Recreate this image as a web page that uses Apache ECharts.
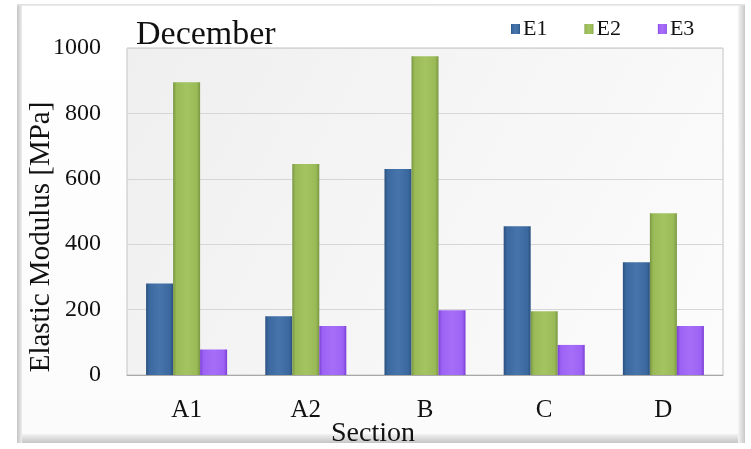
<!DOCTYPE html>
<html>
<head>
<meta charset="utf-8">
<script src="https://cdn.jsdelivr.net/npm/echarts@6/dist/echarts.min.js"></script>
<style>
  html, body { margin: 0; padding: 0; background: #ffffff; }
  #chart { width: 751px; height: 449px; }
</style>
</head>
<body>
<div id="chart"></div>
<script>
// Sections along the road and the three layer moduli (MPa)
const sections = ['A1', 'A2', 'B', 'C', 'D'];
const e1Values = [280, 180, 630, 455, 345];
const e2Values = [895, 645, 975, 195, 495];
const e3Values = [78, 150, 198, 92, 150];
const yTicks = { min: 0, max: 1000, interval: 200 };

const serif = '"Liberation Serif", "DejaVu Serif", serif';

function barFill(edge, base, light) {
  return new echarts.graphic.LinearGradient(0, 0, 1, 0, [
    { offset: 0, color: edge },
    { offset: 0.12, color: base },
    { offset: 0.5, color: light },
    { offset: 0.88, color: base },
    { offset: 1, color: edge }
  ]);
}

const chart = echarts.init(document.getElementById('chart'), null, { renderer: 'canvas' });

const option = {
  backgroundColor: '#ffffff',
  animation: false,
  textStyle: { fontFamily: serif },
  title: {
    text: 'December',
    left: 131,
    top: 13,
    textStyle: { fontFamily: serif, fontSize: 34, fontWeight: 'normal', color: '#111111' }
  },
  legend: {
    left: 506,
    top: 13,
    icon: 'rect',
    itemWidth: 9,
    itemHeight: 10,
    itemGap: 37,
    textStyle: { fontFamily: serif, fontSize: 22, color: '#111111', padding: [0, 0, 0, -2] },
    data: ['E1', 'E2', 'E3']
  },
  graphic: {
    elements: [
      // outer panel with bevelled edges
      {
        type: 'rect', z: -20, silent: true,
        shape: { x: 17, y: 5, width: 728, height: 438 },
        style: { fill: '#cfcfcf' }
      },
      {
        type: 'rect', z: -19, silent: true,
        shape: { x: 17, y: 5, width: 728, height: 438 },
        style: {
          fill: new echarts.graphic.LinearGradient(0, 0, 1, 0, [
            { offset: 0, color: '#c4c4c4' },
            { offset: 0.008, color: '#f4f4f4' },
            { offset: 0.99, color: '#f7f7f7' },
            { offset: 1, color: '#c8c8c8' }
          ])
        }
      },
      {
        type: 'rect', z: -18, silent: true,
        shape: { x: 22, y: 6, width: 716, height: 428 },
        style: {
          fill: new echarts.graphic.LinearGradient(0, 0, 0, 1, [
            { offset: 0, color: '#ffffff' },
            { offset: 1, color: '#fbfbfb' }
          ])
        }
      },
      {
        type: 'rect', z: -18, silent: true,
        shape: { x: 22, y: 434, width: 716, height: 9 },
        style: {
          fill: new echarts.graphic.LinearGradient(0, 0, 0, 1, [
            { offset: 0, color: '#f2f2f2' },
            { offset: 1, color: '#c6c6c6' }
          ])
        }
      },
      {
        type: 'rect', z: -17, silent: true,
        shape: { x: 17, y: 4, width: 728, height: 1.5 },
        style: { fill: '#e2e2e2' }
      },
      // plot area background
      {
        type: 'rect', z: -10, silent: true,
        shape: { x: 127, y: 48, width: 596, height: 327 },
        style: {
          fill: new echarts.graphic.LinearGradient(0, 0, 1, 1, [
            { offset: 0, color: '#efefef' },
            { offset: 1, color: '#fcfcfc' }
          ]),
          stroke: '#c4c4c4',
          lineWidth: 1
        }
      },
      // axis titles
      {
        type: 'text', z: 10, silent: true,
        x: 41, y: 237, rotation: Math.PI / 2,
        style: {
          text: 'Elastic Modulus [MPa]',
          font: '29px ' + serif,
          fill: '#111111',
          align: 'center',
          verticalAlign: 'middle'
        }
      },
      {
        type: 'text', z: 10, silent: true,
        x: 373, y: 434,
        style: {
          text: 'Section',
          font: '28px ' + serif,
          fill: '#111111',
          align: 'center',
          verticalAlign: 'middle'
        }
      }
    ]
  },
  grid: {
    left: 127,
    right: 28,
    top: 48,
    bottom: 74,
    containLabel: false
  },
  xAxis: {
    type: 'category',
    data: sections,
    axisLine: { show: true, lineStyle: { color: '#a8a8a8', width: 1 } },
    axisTick: { show: false },
    axisLabel: { fontFamily: serif, fontSize: 25, color: '#111111', margin: 23 },
    splitLine: { show: false }
  },
  yAxis: {
    type: 'value',
    min: yTicks.min,
    max: yTicks.max,
    interval: yTicks.interval,
    axisLine: { show: false },
    axisTick: { show: false },
    axisLabel: {
      fontFamily: serif, fontSize: 24, color: '#111111', margin: 26,
      formatter: function (v) { return String(v); }
    },
    splitLine: { show: true, lineStyle: { color: '#d6d6d6', width: 1 } }
  },
  series: [
    {
      name: 'E1', type: 'bar', data: e1Values,
      barGap: '0%', barCategoryGap: '32%',
      itemStyle: { color: barFill('#2b507f', '#3b699f', '#4674ab') }
    },
    {
      name: 'E2', type: 'bar', data: e2Values,
      barGap: '0%', barCategoryGap: '32%',
      itemStyle: { color: barFill('#7a9743', '#99ba56', '#a4c462') }
    },
    {
      name: 'E3', type: 'bar', data: e3Values,
      barGap: '0%', barCategoryGap: '32%',
      itemStyle: { color: barFill('#7d3fd6', '#9d62f4', '#a66ef8') }
    }
  ]
};

chart.setOption(option);
</script>
</body>
</html>
